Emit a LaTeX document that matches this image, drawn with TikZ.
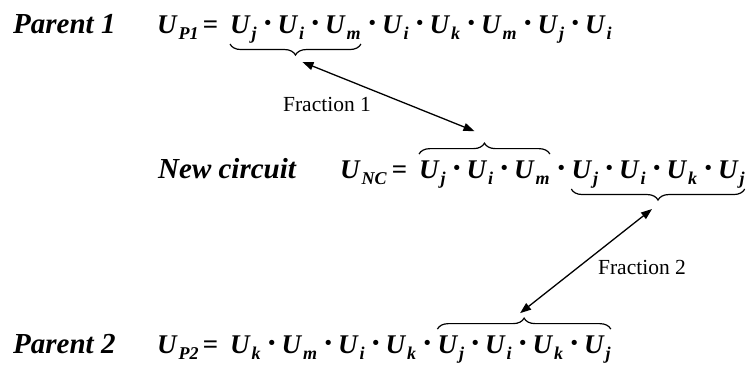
\documentclass[tikz,border=0pt]{standalone}
\usepackage{fontspec}
\setmainfont{Liberation Serif}
\usetikzlibrary{arrows.meta,positioning,calc,decorations.pathreplacing}
\newcommand\Uf[1]{U\kern2pt\raisebox{-6pt}{\fontsize{18}{18}\selectfont #1}}
\newcommand\dt{\kern7pt{\fontsize{32}{32}\selectfont·}\kern6pt}
\tikzset{
  rowlabel/.style={font=\fontsize{29}{29}\selectfont\bfseries\itshape, inner sep=0pt, anchor=base west},
  eqn/.style={font=\fontsize{27}{27}\selectfont\bfseries\itshape, inner sep=0pt, anchor=base west},
  fraclabel/.style={font=\fontsize{21.5}{21.5}\selectfont, inner sep=0pt},
  overbr/.style={decorate, decoration={brace, amplitude=11pt}, line width=1.2pt},
  underbr/.style={decorate, decoration={brace, amplitude=11pt, mirror}, line width=1.2pt},
  link/.style={{Triangle[length=11pt,width=8pt]}-{Triangle[length=11pt,width=8pt]}, line width=1.3pt}
}
\begin{document}
\begin{tikzpicture}[x=1pt, y=-1pt]
\useasboundingbox (0,0) rectangle (754,365);
% parent 1
\node[rowlabel] (par1) at (13,33) {Parent 1};
\node[eqn] (lhs1) at (157,33) {\Uf{P1}\kern4pt=};
\node[eqn] (cut1) at (230,33) {\Uf{j}\dt\Uf{i}\dt\Uf{m}};
\node[eqn] (rest1) at (cut1.base east) {\dt\Uf{i}\dt\Uf{k}\dt\Uf{m}\dt\Uf{j}\dt\Uf{i}};
% new circuit
\node[rowlabel] (newc) at (158,178) {New circuit};
\node[eqn] (lhsn) at (340,178) {\Uf{NC}\kern5pt=};
\node[eqn] (partA) at (419,178) {\Uf{j}\dt\Uf{i}\dt\Uf{m}};
\node[eqn] (dotn) at (partA.base east) {\dt};
\node[eqn] (partB) at (dotn.base east) {\Uf{j}\dt\Uf{i}\dt\Uf{k}\dt\Uf{j}};
% parent 2
\node[rowlabel] (par2) at (13,353) {Parent 2};
\node[eqn] (lhs2) at (157,353) {\Uf{P2}\kern4pt=};
\node[eqn] (rest2) at (230,353) {\Uf{k}\dt\Uf{m}\dt\Uf{i}\dt\Uf{k}\dt};
\node[eqn] (cut2) at (rest2.base east) {\Uf{j}\dt\Uf{i}\dt\Uf{k}\dt\Uf{j}};
% braces
\draw[underbr] ([yshift=-1pt]cut1.south west) -- ([yshift=-1pt]cut1.south east);
\draw[overbr] ([yshift=6pt]partA.north west) -- ([yshift=6pt]partA.north east);
\draw[underbr] ([yshift=-1pt]partB.south west) -- ([yshift=-1pt]partB.south east);
\draw[overbr] ([yshift=6pt]cut2.north west) -- ([yshift=6pt]cut2.north east);
\coordinate (tip1) at ([yshift=-12pt]cut1.south);
\coordinate (tipA) at ([yshift=17pt]partA.north);
\coordinate (tipB) at ([yshift=-12pt]partB.south);
\coordinate (tip2) at ([yshift=17pt]cut2.north);
% arrows
\draw[link] ($(tip1)+(7,7)$) -- ($(tipA)+(-10,-12)$);
\draw[link] ($(tipB)+(-6,9)$) -- ($(tip2)+(-4,-5)$);
\node[fraclabel] (lab1) at (327,104) {Fraction 1};
\node[fraclabel] (lab2) at (642,267) {Fraction 2};
\end{tikzpicture}
\end{document}
